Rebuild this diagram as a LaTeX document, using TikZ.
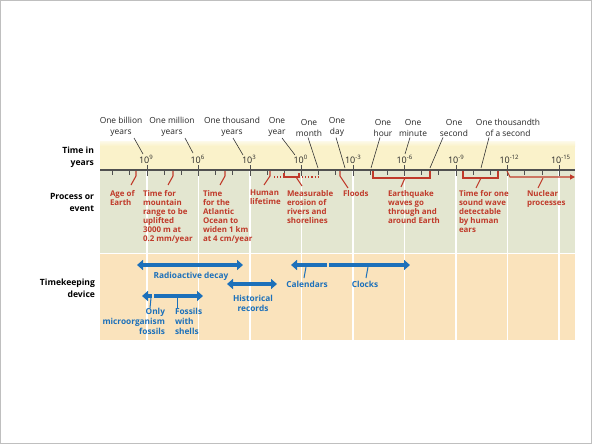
\documentclass[tikz,border=0pt]{standalone}
\usepackage{fontspec}
\setmainfont{Open Sans}
\usetikzlibrary{arrows.meta}
\definecolor{ybg}{RGB}{250,242,202}
\definecolor{gbg}{RGB}{227,230,208}
\definecolor{obg}{RGB}{250,227,188}
\definecolor{rd}{RGB}{192,58,42}
\definecolor{bl}{RGB}{28,112,186}
\definecolor{axc}{RGB}{80,80,80}
\begin{document}
\begin{tikzpicture}[x=1pt,y=-1pt,
  every node/.style={inner sep=0pt,outer sep=0pt},
  toplbl/.style={font=\fontsize{8.4}{10.5}\selectfont,align=center,anchor=south,text=black!85},
  ticklbl/.style={font=\fontsize{9}{10}\selectfont,anchor=base west,text=black!85},
  rowlbl/.style={font=\bfseries\fontsize{8.6}{12}\selectfont,align=right,anchor=east},
  proclbl/.style={font=\bfseries\fontsize{7.9}{9.1}\selectfont,align=left,anchor=north west,text=rd},
  devlbl/.style={font=\bfseries\fontsize{8.3}{10}\selectfont,text=bl},
  ptr/.style={draw=black!80,line width=0.6pt},
  rline/.style={draw=rd,line width=1.1pt},
  bptr/.style={draw=bl,line width=1pt},
  bar/.style={draw=bl,line width=3.4pt},
  tip/.tip={Triangle[length=6pt,width=10pt]},
  divider/.style={draw=white,line width=1.5pt}
]
\useasboundingbox (0,0) rectangle (592,444);
\fill[white] (0,0) rectangle (592,444);
\draw[black!25,line width=0.8pt] (0.5,0.5) rectangle (591.5,443.5);

% bands
\fill[ybg] (100,142) rectangle (575,170);
\shade[top color=ybg!40,bottom color=ybg] (100,141) rectangle (575,146);
\fill[gbg] (100,170) rectangle (575,252.5);
\fill[obg] (100,254) rectangle (575,340);
\foreach \x in {147,198.5,250,301.5,353,404.5,456,507.5,559}
  \draw[divider] (\x,170) -- (\x,340);

% row labels
\node[rowlbl] (rtime) at (94,157) {Time in\\years};
\node[rowlbl] (rproc) at (94,202) {Process or\\event};
\node[rowlbl] (rdev) at (95,288) {Timekeeping\\device};

% axis
\draw[axc,line width=1.1pt] (100,170) -- (575,170);
\foreach \d in {11,10,...,-15}
  \draw[axc,line width=0.8pt] ({147+(9-\d)*17.17},170) -- ({147+(9-\d)*17.17},175);
\foreach \d in {9,6,...,-15}
  \draw[axc,line width=0.8pt] ({147+(9-\d)*17.17},165) -- ({147+(9-\d)*17.17},176);
\foreach \d [count=\i] in {9,6,3,0,-3,-6,-9,-12,-15}
  \node[ticklbl] (t\i) at ({147+(9-\d)*17.17-8},163) {10\textsuperscript{\d}};

% top labels
\node[toplbl] (lbil) at (121,136.5) {One billion\\years};
\node[toplbl] (lmil) at (172,136.5) {One million\\years};
\node[toplbl] (ltho) at (232,136.5) {One thousand\\years};
\node[toplbl] (lyr) at (277,136.5) {One\\year};
\node[toplbl] (lmon) at (309,136.5) {One\\month};
\node[toplbl] (lday) at (337,136.5) {One\\day};
\node[toplbl] (lhr) at (383,136.5) {One\\hour};
\node[toplbl] (lmin) at (413,136.5) {One\\minute};
\node[toplbl] (lsec) at (454,136.5) {One\\second};
\node[toplbl] (lms) at (508,136.5) {One thousandth\\of a second};
\draw[ptr] (lbil.south) ++(13,1.5) -- ++(9,16);
\draw[ptr] (lmil.south) ++(13,1.5) -- ++(8,15);
\draw[ptr] (ltho.south) ++(1,1.5) -- ++(10,17);
\draw[ptr] (lyr.south) ++(5,1.5) -- ++(13,17);
\draw[ptr] (lmon.south) ++(-1,1) -- ++(10,30.5);
\draw[ptr] (lday.south) ++(-1,1) -- ++(9,30.5);
\draw[ptr] (lhr.south) ++(-3,1) -- ++(-9,30.5);
\draw[ptr] (lmin.south) ++(-3,1) -- ++(-5,16.5);
\draw[ptr] (lsec.south) ++(-11,1) -- ++(-13,30.5);
\draw[ptr] (lms.south) ++(-19,1) -- ++(-8,30.5);

% process markers
\draw[rline] (136,171) -- (136,176) -- (131,185);
\draw[rline] (173,171) -- (173,176) -- (168,185);
\draw[rline] (225,171) -- (225,176) -- (220,185);
\draw[rline] (270,171) -- (270,176) -- (264,185);
\draw[rline,dotted] (274,177) -- (284,177);
\draw[rline] (284,173) -- (284,177) -- (299,177) -- (299,173);
\draw[rline,dotted] (299,177) -- (318,177);
\draw[rline] (296,177) -- (302,186);
\draw[rline] (340,171) -- (340,176) -- (348,188);
\draw[rline] (373,171) -- (373,178) -- (430,178) -- (430,171);
\draw[rline] (405,178) -- (401,187);
\draw[rline] (463,171) -- (463,178) -- (498,178) -- (498,171);
\draw[rline] (481,178) -- (476,188);
\draw[rline,-{Triangle[length=5pt,width=5pt]}] (507,171) -- (510,177) -- (575,177);
\draw[rline] (543,178) -- (538,188);

\node[proclbl] (pa) at (110,190) {Age of\\Earth};
\node[proclbl] (pb) at (143,190) {Time for\\mountain\\range to be\\uplifted\\3000 m at\\0.2 mm/year};
\node[proclbl] (pc) at (203,190) {Time\\for the\\Atlantic\\Ocean to\\widen 1 km\\at 4 cm/year};
\node[proclbl] (pd) at (250,190) {Human\\lifetime};
\node[proclbl] (pe) at (287,190) {Measurable\\erosion of\\rivers and\\shorelines};
\node[proclbl] (pf) at (343,190) {Floods};
\node[proclbl] (pg) at (388,190) {Earthquake\\waves go\\through and\\around Earth};
\node[proclbl] (ph) at (459,190) {Time for one\\sound wave\\detectable\\by human\\ears};
\node[proclbl] (pi) at (527,190) {Nuclear\\processes};

% timekeeping
\draw[bar,{tip}-{tip}] (137,265) -- (243,265);
\node[devlbl] (draddec) at (191,276) {Radioactive decay};
\draw[bar,{tip}-] (142,296) -- (152,296);
\draw[bar,-{tip}] (154,296) -- (203,296);
\draw[bptr] (151,298) -- (150,308);
\draw[bptr] (177,298) -- (177,308);
\node[devlbl,align=right,anchor=north east] (donly) at (165,308) {Only\\microorganism\\fossils};
\node[devlbl,align=left,anchor=north west] (dshell) at (175,308) {Fossils\\with\\shells};
\draw[bar,{tip}-{tip}] (227,284) -- (277,284);
\node[devlbl,align=center] (dhist) at (253,303) {Historical\\records};
\draw[bar,{tip}-] (291,265) -- (327,265);
\draw[bar,-{tip}] (329,265) -- (410,265);
\draw[bptr] (306,267) -- (304,278);
\draw[bptr] (368,267) -- (366,278);
\node[devlbl] (dcal) at (307,284) {Calendars};
\node[devlbl] (dclk) at (365,284) {Clocks};
\end{tikzpicture}
\end{document}
